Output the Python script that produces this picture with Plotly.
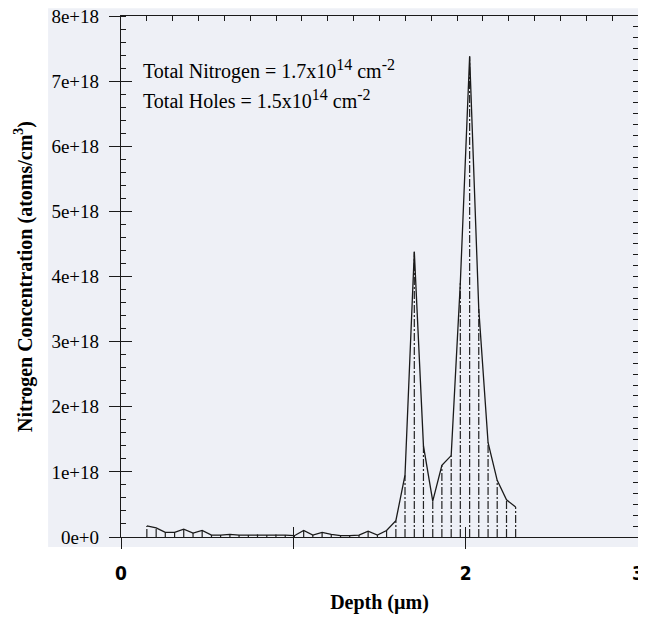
import plotly.graph_objects as go

# Depth (µm) of each measured point
depth = [0.150, 0.204, 0.257, 0.311, 0.364, 0.418, 0.471, 0.525, 0.578, 0.632,
         0.685, 0.739, 0.792, 0.846, 0.899, 0.953, 1.006, 1.060, 1.113, 1.167,
         1.220, 1.274, 1.327, 1.381, 1.434, 1.488, 1.541, 1.595, 1.648, 1.702,
         1.755, 1.809, 1.862, 1.916, 1.969, 2.023, 2.076, 2.130, 2.183, 2.237,
         2.290]
# Nitrogen concentration (atoms/cm^3)
nitrogen = [v * 1e18 for v in [
    0.17, 0.14, 0.07, 0.07, 0.12, 0.06, 0.10, 0.03, 0.03, 0.04,
    0.03, 0.03, 0.04, 0.03, 0.04, 0.03, 0.02, 0.10, 0.03, 0.07,
    0.04, 0.02, 0.02, 0.03, 0.09, 0.03, 0.10, 0.25, 0.95, 4.38,
    1.40, 0.55, 1.10, 1.25, 3.90, 7.38, 3.50, 1.45, 0.87, 0.57,
    0.46]]

y_tickvals = [0, 1e18, 2e18, 3e18, 4e18, 5e18, 6e18, 7e18, 8e18]
y_ticktext = ["0e+0", "1e+18", "2e+18", "3e+18", "4e+18", "5e+18", "6e+18", "7e+18", "8e+18"]
x_tickvals = [0, 1, 2, 3]
x_ticktext = ["0", "", "2", "3"]

SUP = "<sup><span style='font-size:16px'>{}</span></sup>"
annotations_text = [
    "Total Nitrogen = 1.7x10" + SUP.format("14") + " cm" + SUP.format("-2"),
    "Total Holes = 1.5x10" + SUP.format("14") + " cm" + SUP.format("-2"),
]

# build stems from the data
stem_x, stem_y = [], []
for d, n in zip(depth, nitrogen):
    stem_x += [d, d, None]
    stem_y += [0, n, None]

INK = "#1a1a1a"
BG = "#eef0f6"
SERIF = "Liberation Serif, Times New Roman, serif"

fig = go.Figure()
fig.add_trace(go.Scatter(x=stem_x, y=stem_y, mode="lines",
                         line=dict(color="#222222", width=1.2, dash="8px,2px,2px,2px"),
                         hoverinfo="skip", showlegend=False))
fig.add_trace(go.Scatter(x=depth, y=nitrogen, mode="lines",
                         line=dict(color=INK, width=1.3), showlegend=False))
# helper traces so overlay axes get drawn
fig.add_trace(go.Scatter(x=[None], y=[None], xaxis="x2", yaxis="y2", showlegend=False))
fig.add_trace(go.Scatter(x=[None], y=[None], xaxis="x3", yaxis="y3", showlegend=False))

# the page body adds an 8px margin, so the figure is sized to fit inside it
fig.update_layout(
    width=638, height=615,
    margin=dict(l=113, r=8, t=8, b=86),
    paper_bgcolor="white",
    plot_bgcolor=BG,
    showlegend=False,
    xaxis=dict(range=[0, 3], tickvals=x_tickvals, ticktext=x_ticktext,
               ticks="outside", ticklen=11, tickcolor=INK, tickwidth=1.2,
               showline=True, linecolor=INK, linewidth=1.3, automargin=False,
               showgrid=False, zeroline=False, ticklabelstandoff=8,
               ticklabeloverflow="allow",
               tickfont=dict(family="DejaVu Sans Condensed, Liberation Sans, sans-serif",
                             size=19, color="black", weight="bold"),
               title=dict(text="Depth (µm)", standoff=12,
                          font=dict(family=SERIF, size=20, color="black", weight="bold"))),
    yaxis=dict(range=[0, 8e18], tickvals=y_tickvals, ticktext=y_ticktext,
               ticks="outside", ticklen=11, tickcolor=INK, tickwidth=1.2,
               minor=dict(ticks="inside", ticklen=5, dtick=0.2e18, tickcolor=INK),
               showline=True, linecolor=INK, linewidth=1.3, automargin=False,
               showgrid=False, zeroline=False, ticklabelstandoff=6,
               ticklabeloverflow="allow",
               tickfont=dict(family=SERIF, size=19, color="black"),
               title=dict(text="Nitrogen Concentration (atoms/cm<sup>3</sup>)", standoff=13,
                          font=dict(family=SERIF, size=20, color="black", weight="bold"))),
    xaxis2=dict(overlaying="x", anchor="y2", side="bottom", range=[0, 3],
                tickvals=x_tickvals, ticks="inside", ticklen=10, tickcolor=INK,
                tickwidth=1.2, showticklabels=False, showgrid=False, zeroline=False,
                showline=False, automargin=False),
    yaxis2=dict(overlaying="y", anchor="x2", side="left", range=[0, 8e18],
                tickvals=y_tickvals, ticks="inside", ticklen=11, tickcolor=INK,
                tickwidth=1.2, showticklabels=False, showgrid=False, zeroline=False,
                showline=False, automargin=False),
    xaxis3=dict(overlaying="x", anchor="y3", side="top", range=[0, 3],
                dtick=0.15, tick0=0, ticks="inside", ticklen=5, tickcolor=INK,
                showticklabels=False, showgrid=False, zeroline=False,
                showline=True, linecolor=INK, linewidth=1.3, automargin=False),
    yaxis3=dict(overlaying="y", anchor="x3", side="right", range=[0, 8e18],
                dtick=1e18 / 6, tick0=0, ticks="inside", ticklen=5, tickcolor=INK,
                showticklabels=False, showgrid=False, zeroline=False,
                showline=True, linecolor=INK, linewidth=1.3, automargin=False),
)

fig.add_shape(type="rect", xref="paper", yref="paper",
              x0=-0.141, x1=1.02, y0=-0.019, y1=1.015,
              fillcolor=BG, line=dict(width=0), layer="below")

for txt, yy in zip(annotations_text, [0.898, 0.841]):
    fig.add_annotation(text=txt, xref="paper", yref="paper", x=0.038, y=yy,
                       xanchor="left", yanchor="middle", showarrow=False,
                       font=dict(family=SERIF, size=20, color="black"))

fig.write_html("out.html")
